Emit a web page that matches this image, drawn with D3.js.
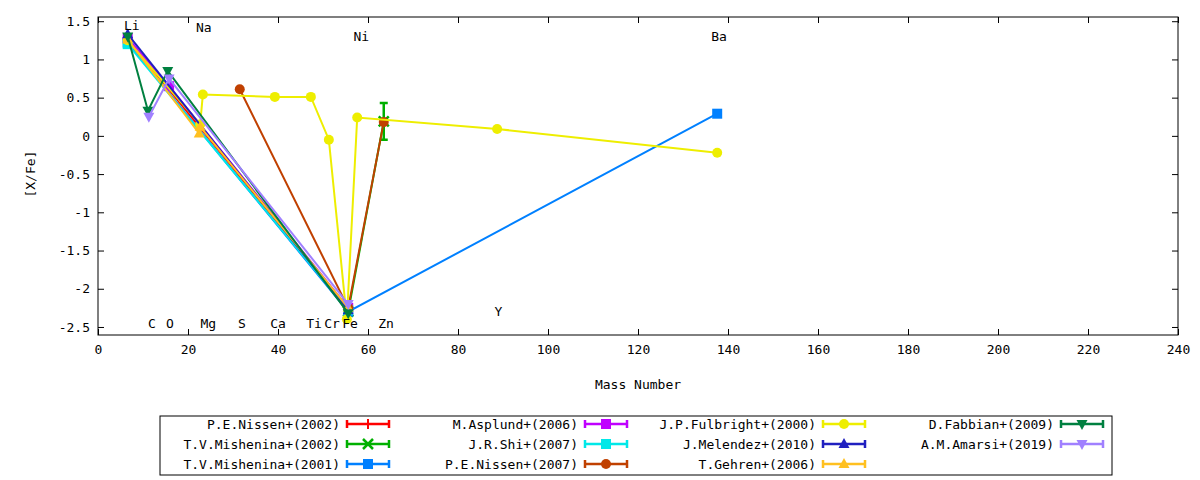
<!DOCTYPE html>
<html><head><meta charset="utf-8">
<script src="https://cdn.jsdelivr.net/npm/d3@7"></script>
<style>body{margin:0;background:#fff}text{font-family:"DejaVu Sans Mono",monospace;font-size:13px}</style>
</head><body><div id="chart"></div>
<script>
// Set up conventions
let width = 1200, height = 480;
let margin = ({top: 17, right: 22, bottom: 145, left: 98});

// series: name, colour, marker, points [mass, value, err]
let names = ["P.E.Nissen+(2002)", "T.V.Mishenina+(2002)", "T.V.Mishenina+(2001)", "M.Asplund+(2006)", "J.R.Shi+(2007)",
  "P.E.Nissen+(2007)", "J.P.Fulbright+(2000)", "J.Melendez+(2010)", "T.Gehren+(2006)", "D.Fabbian+(2009)", "A.M.Amarsi+(2019)"];
let colors = ["#ff0000", "#00b000", "#0080ff", "#c000ff", "#00e8e8", "#c04000", "#eeee00", "#2020c0", "#ffc020", "#008040", "#a080ff"];
let markers = ["plus", "cross", "square", "square", "square", "circle", "circle", "tri", "tri", "tridown", "tridown"];
let nissen02 = [[6.6, 1.27], [55.6, -2.27]];
let mishenina02 = [[55.6, -2.3], [63.5, 0.19, 0.24]];
let mishenina01 = [[6.6, 1.22], [55.6, -2.3], [137.6, 0.29]];
let asplund06 = [[6.6, 1.28], [15.8, 0.65], [55.6, -2.25]];
let shi07 = [[6.6, 1.2], [55.6, -2.28]];
let nissen07 = [[31.5, 0.61], [55.6, -2.25], [63.5, 0.18]];
let fulbright00 = [[6.6, 1.25], [22.7, 0.15], [23.3, 0.54], [39.3, 0.51], [47.3, 0.51], [51.3, -0.05], [55.3, -2.4], [57.6, 0.24], [88.7, 0.09], [137.6, -0.22]];
let melendez10 = [[6.6, 1.33], [55.6, -2.28]];
let gehren06 = [[6.6, 1.26], [22.5, 0.03], [22.7, 0.12], [55.6, -2.25]];
let fabbian09 = [[6.6, 1.3], [11.1, 0.33], [15.5, 0.85], [55.6, -2.32]];
let amarsi19 = [[11.3, 0.25], [15.8, 0.75], [55.6, -2.2]];
let series = [nissen02, mishenina02, mishenina01, asplund06, shi07, nissen07, fulbright00, melendez10, gehren06, fabbian09, amarsi19];

// element labels
let elements = ["Li", "Na", "Ni", "Ba", "C", "O", "Mg", "S", "Ca", "Ti", "Cr", "Fe", "Zn", "Y"];
let elemX = [7.5, 23.5, 58.5, 138, 12, 16, 24.5, 32, 40, 48, 52, 56, 64, 89];
let elemY = [1.45, 1.42, 1.3, 1.3, -2.45, -2.45, -2.45, -2.45, -2.45, -2.45, -2.45, -2.45, -2.45, -2.29];

let xTicks = d3.range(0, 241, 20);
let yTicks = [1.5, 1, 0.5, 0, -0.5, -1, -1.5, -2, -2.5];

let svg = d3.select("#chart").append("svg").attr("width", width).attr("height", height);

let xScale = d3.scaleLinear().domain([0, 240]).range([margin.left, width - margin.right]);
let yScale = d3.scaleLinear().domain([-2.605, 1.555]).range([height - margin.bottom, margin.top]);

let xAxis = d3.axisBottom(xScale).tickValues(xTicks).tickSize(-6).tickPadding(10).tickFormat(d3.format("d"));
let yAxis = d3.axisLeft(yScale).tickValues(yTicks).tickSize(-6).tickPadding(8).tickFormat(d => d);
let xTop = d3.axisTop(xScale).tickValues(xTicks).tickSize(-6).tickFormat("");
let yRight = d3.axisRight(yScale).tickValues(yTicks).tickSize(-6).tickFormat("");

svg.append("g").attr("transform", "translate(0," + (height - margin.bottom) + ")").call(xAxis);
svg.append("g").attr("transform", "translate(" + margin.left + ",0)").call(yAxis);
svg.append("g").attr("transform", "translate(0," + margin.top + ")").call(xTop);
svg.append("g").attr("transform", "translate(" + (width - margin.right) + ",0)").call(yRight);
svg.selectAll(".domain").remove();
svg.selectAll(".tick line").attr("stroke", "#000");
svg.selectAll(".tick text").attr("fill", "#000").style("font-size", "13px");
svg.append("rect").attr("x", margin.left).attr("y", margin.top)
  .attr("width", width - margin.left - margin.right).attr("height", height - margin.top - margin.bottom)
  .attr("fill", "none").attr("stroke", "#000");

svg.append("text").attr("x", (margin.left + width - margin.right) / 2).attr("y", 389).attr("text-anchor", "middle").text("Mass Number");
svg.append("text").attr("transform", "translate(35," + yScale(-0.5) + ") rotate(-90)").attr("text-anchor", "middle").text("[X/Fe]");

function marker(g, type, color, x, y, s) {
  if (type == "plus") {
    g.append("path").attr("d", `M${x - s},${y}h${2 * s}M${x},${y - s}v${2 * s}`).attr("stroke", color).attr("stroke-width", 2);
  } else if (type == "cross") {
    g.append("path").attr("d", `M${x - s},${y - s}l${2 * s},${2 * s}M${x - s},${y + s}l${2 * s},${-2 * s}`).attr("stroke", color).attr("stroke-width", 2.5);
  } else if (type == "square") {
    g.append("rect").attr("x", x - s).attr("y", y - s).attr("width", 2 * s).attr("height", 2 * s).attr("fill", color);
  } else if (type == "circle") {
    g.append("circle").attr("cx", x).attr("cy", y).attr("r", s).attr("fill", color);
  } else if (type == "tri") {
    g.append("path").attr("d", `M${x},${y - s * 1.2}L${x + s * 1.1},${y + s * 0.8}L${x - s * 1.1},${y + s * 0.8}Z`).attr("fill", color);
  } else {
    g.append("path").attr("d", `M${x},${y + s * 1.2}L${x + s * 1.1},${y - s * 0.8}L${x - s * 1.1},${y - s * 0.8}Z`).attr("fill", color);
  }
}

let line = d3.line().x(d => xScale(d[0])).y(d => yScale(d[1]));
series.forEach((data, i) => {
  let g = svg.append("g");
  g.append("path").datum(data).attr("d", line).attr("fill", "none").attr("stroke", colors[i]).attr("stroke-width", 2);
  data.forEach(d => {
    if (d[2]) {
      let x = xScale(d[0]), y0 = yScale(d[1] - d[2]), y1 = yScale(d[1] + d[2]);
      g.append("path").attr("d", `M${x},${y0}V${y1}M${x - 4},${y0}h8M${x - 4},${y1}h8`).attr("stroke", colors[i]).attr("stroke-width", 2.5);
    }
    marker(g, markers[i], colors[i], xScale(d[0]), yScale(d[1]), 5);
  });
});

svg.selectAll(".elem").data(elements).enter().append("text")
  .attr("x", (d, i) => xScale(elemX[i])).attr("y", (d, i) => yScale(elemY[i]) + 5)
  .attr("text-anchor", "middle").text(d => d);

// legend
let leg = svg.append("g");
leg.append("rect").attr("x", 160).attr("y", 416).attr("width", 952).attr("height", 59).attr("fill", "none").attr("stroke", "#000");
names.forEach((n, i) => {
  let col = Math.floor(i / 3), row = i % 3;
  let tx = 340 + col * 238, ty = 424 + row * 20;
  leg.append("text").attr("x", tx).attr("y", ty + 5).attr("text-anchor", "end").text(n);
  let x0 = tx + 7, x1 = tx + 49;
  leg.append("path").attr("d", `M${x0},${ty}H${x1}M${x0},${ty - 4}v8M${x1},${ty - 4}v8`).attr("stroke", colors[i]).attr("stroke-width", 2.5);
  marker(leg, markers[i], colors[i], (x0 + x1) / 2, ty, 5);
});
</script></body></html>
